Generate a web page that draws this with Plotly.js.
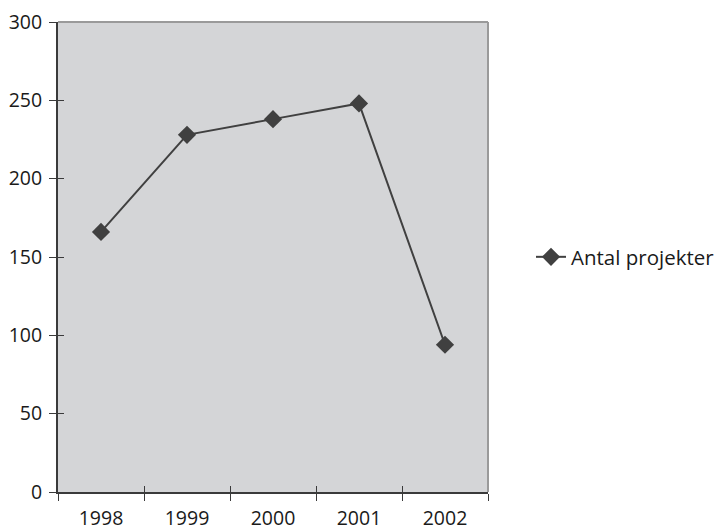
<!DOCTYPE html>
<html>
<head>
<meta charset="utf-8">
<script src="https://cdn.plot.ly/plotly-3.0.1.min.js"></script>
<style>html,body{margin:0;padding:0;background:#fff;}#chart{width:724px;height:531px;}</style>
</head>
<body>
<div id="chart"></div>
<script>
const years = ["1998", "1999", "2000", "2001", "2002"];
const antalProjekter = [166, 228, 238, 248, 94];
const seriesName = "Antal projekter";
const yTicks = [0, 50, 100, 150, 200, 250, 300];

const fontFam = "Open Sans, Noto Sans, sans-serif";
const lineCol = "#404040";
const fs = 19.5;

const traces = [
  {
    x: years, y: antalProjekter, name: seriesName, type: "scatter", mode: "lines+markers",
    line: {color: lineCol, width: 2},
    marker: {symbol: "diamond", size: 14, color: lineCol},
    hoverinfo: "x+y"
  },
  {
    x: years, y: antalProjekter, xaxis: "x2", yaxis: "y2", type: "scatter", mode: "lines",
    line: {color: "rgba(0,0,0,0)", width: 0}, showlegend: false, hoverinfo: "skip"
  }
];

const layout = {
  width: 724, height: 531,
  margin: {l: 58, r: 236, t: 22, b: 39, autoexpand: false},
  paper_bgcolor: "#ffffff",
  plot_bgcolor: "#d4d5d7",
  font: {family: fontFam, size: fs, color: "#1a1a1a"},
  showlegend: true,
  legend: {x: 1.1, xanchor: "left", y: 0.5, yanchor: "middle", font: {family: fontFam, size: 20.5, color: "#1a1a1a"}, bgcolor: "rgba(0,0,0,0)"},
  xaxis: {
    type: "category", categoryarray: years, range: [-0.5, 4.5],
    showgrid: false, zeroline: false,
    showline: true, linecolor: "#3a3a3a", linewidth: 2,
    ticks: "outside", ticklen: 7, tickwidth: 1, tickcolor: "#3a3a3a", tickson: "boundaries",
    ticklabelstandoff: 8,
    tickfont: {family: fontFam, size: fs, color: "#1a1a1a"}
  },
  yaxis: {
    range: [0, 300], tickvals: yTicks, ticktext: yTicks.map(String),
    showgrid: false, zeroline: false,
    showline: true, linecolor: "#3a3a3a", linewidth: 2,
    ticks: "outside", ticklen: 7, tickwidth: 1, tickcolor: "#3a3a3a",
    ticklabelstandoff: 3,
    tickfont: {family: fontFam, size: fs, color: "#1a1a1a"}
  },
  xaxis2: {
    type: "category", categoryarray: years, range: [-0.5, 4.5], overlaying: "x", anchor: "y",
    showgrid: false, zeroline: false, showline: false,
    ticks: "inside", ticklen: 6, tickwidth: 1, tickcolor: "#3a3a3a", tickson: "boundaries",
    showticklabels: false
  },
  yaxis2: {
    range: [0, 300], tickvals: yTicks, overlaying: "y", anchor: "x",
    showgrid: false, zeroline: false, showline: false,
    ticks: "inside", ticklen: 6, tickwidth: 1, tickcolor: "#3a3a3a",
    showticklabels: false
  },
  shapes: [
    {type: "line", xref: "paper", yref: "paper", x0: 0, x1: 1, y0: 1, y1: 1, line: {color: "#9a9a9a", width: 2}},
    {type: "line", xref: "paper", yref: "paper", x0: 1, x1: 1, y0: 0, y1: 1, line: {color: "#9a9a9a", width: 2}}
  ]
};

Plotly.newPlot("chart", traces, layout, {displayModeBar: false, staticPlot: true});
</script>
</body>
</html>
